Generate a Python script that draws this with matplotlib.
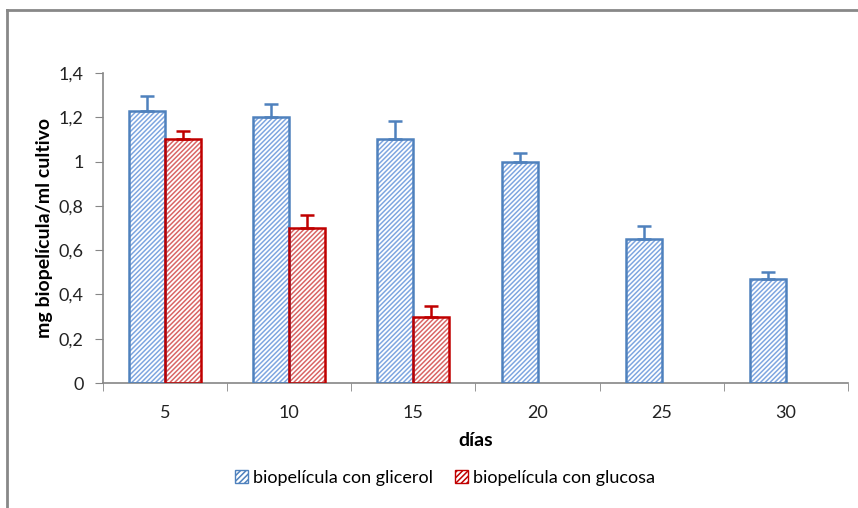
import numpy as np
import matplotlib.pyplot as plt
from matplotlib.patches import Patch
from matplotlib.lines import Line2D

dias = ['5', '10', '15', '20', '25', '30']
glicerol = [1.23, 1.20, 1.10, 1.00, 0.65, 0.47]
glicerol_err = [0.065, 0.06, 0.085, 0.04, 0.06, 0.03]
glucosa = [1.10, 0.70, 0.30]
glucosa_err = [0.04, 0.06, 0.05]
y_ticks = [0, 0.2, 0.4, 0.6, 0.8, 1.0, 1.2, 1.4]
y_labels = ['0', '0,2', '0,4', '0,6', '0,8', '1', '1,2', '1,4']

blue_edge = '#4F81BD'
blue_hatch = '#7FA6E0'
red_edge = '#C00000'
red_hatch = '#D96666'
axis_gray = '#868686'

plt.rcParams['font.family'] = ['Lato', 'DejaVu Sans']
plt.rcParams['hatch.linewidth'] = 1.1

fig = plt.figure(figsize=(8.58, 5.08), dpi=100)
ax = fig.add_axes([103/858, 1-383/508, 745/858, 310/508])

x = np.arange(len(dias))
w = 0.29


def draw_bars(xs, vals, errs, edge, hatch_col):
    ax.bar(xs, vals, width=w, align='edge', facecolor='white',
           edgecolor=hatch_col, hatch='///////', linewidth=0, zorder=2)
    ax.bar(xs, vals, width=w, align='edge', facecolor='none',
           edgecolor=edge, linewidth=1.8, zorder=3)
    ax.errorbar(np.array(xs) + w/2, vals, yerr=[np.zeros(len(errs)), errs],
                fmt='none', ecolor=edge, elinewidth=1.8, capsize=5,
                capthick=1.8, zorder=4)


draw_bars(x - w, glicerol, glicerol_err, blue_edge, blue_hatch)
draw_bars(x[:len(glucosa)], glucosa, glucosa_err, red_edge, red_hatch)

ax.set_xlim(-0.5, len(dias) - 0.5)
ax.set_ylim(0, 1.4)
ax.set_yticks(y_ticks)
ax.set_yticklabels(y_labels)
ax.set_xticks(x)
ax.set_xticklabels(dias)
ax.set_xticks(np.arange(-0.5, len(dias), 1), minor=True)
ax.tick_params(axis='x', which='major', length=0, pad=16, labelsize=13,
               labelcolor='#222222')
ax.tick_params(axis='x', which='minor', length=6, color=axis_gray,
               direction='out')
ax.tick_params(axis='y', length=6, color=axis_gray, labelsize=13,
               labelcolor='#222222', pad=8)
for s in ['top', 'right']:
    ax.spines[s].set_visible(False)
for s in ['left', 'bottom']:
    ax.spines[s].set_color(axis_gray)
    ax.spines[s].set_linewidth(1.2)

ax.set_xlabel('días', fontsize=14, fontweight='bold', labelpad=8)
ax.set_ylabel('mg biopelícula/ml cultivo', fontsize=14, fontweight='bold',
              labelpad=4)

handles = [Patch(facecolor='white', edgecolor=blue_edge, hatch='//////',
                 linewidth=1),
           Patch(facecolor='white', edgecolor=red_edge, hatch='//////',
                 linewidth=1)]
fig.legend(handles, ['biopelícula con glicerol', 'biopelícula con glucosa'],
           loc='center', bbox_to_anchor=(0.519, 0.059), ncol=2, frameon=False,
           fontsize=13, handlelength=0.7, handleheight=0.7, handletextpad=0.3,
           columnspacing=1.2)

# chart area border (top and left edges visible)
fig.add_artist(Line2D([7/858, 1.0], [1-10/508, 1-10/508], color='#888888',
                      lw=2, transform=fig.transFigure))
fig.add_artist(Line2D([7/858, 7/858], [0, 1-10/508], color='#888888',
                      lw=2, transform=fig.transFigure))

fig.savefig('out.png', dpi=100)
